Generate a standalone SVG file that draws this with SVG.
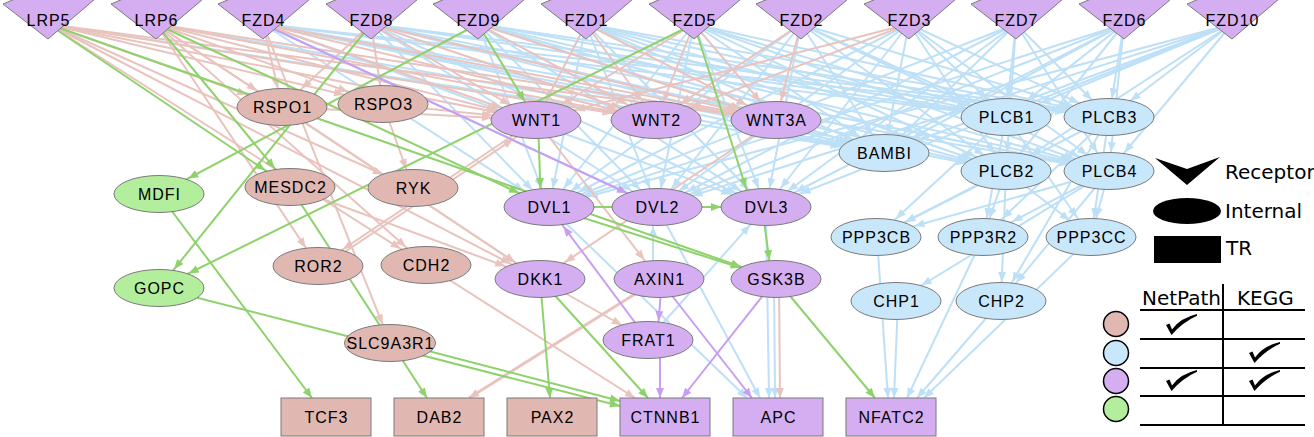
<svg xmlns="http://www.w3.org/2000/svg" xmlns:xlink="http://www.w3.org/1999/xlink" width="1314" height="437" viewBox="0 0 1314 437">
<style>
.e line{stroke-width:2;fill:none}
.ep line{stroke:#e9c3be}
.eb line{stroke:#bde0f7}
.eg line{stroke:#8ed26b}
.ev line{stroke:#c69ef2}
.ap{fill:#e9c3be}.ab{fill:#bde0f7}.ag{fill:#8ed26b}.av{fill:#c69ef2}
.n{stroke:#7a7a7a;stroke-width:1}
.fp{fill:#e0b7b1}.fb{fill:#c8e7fb}.fv{fill:#d4aef0}.fg{fill:#b2ee9b}
.t{font-family:"Liberation Sans",Arial,sans-serif;font-size:16px;letter-spacing:1px;text-anchor:middle;fill:#000}
.lg{font-family:"DejaVu Sans",Verdana,sans-serif;font-size:20px;fill:#000}
.tl{stroke:#000;stroke-width:2}
.lc{stroke:#000;stroke-width:1.5}
</style>
<defs>
<polygon id="rc" points="-45,4 -33,-1 47,-1 0,39"/>
<path id="ck" d="M0,11 L3.5,9.5 L6,15.5 Q14,4 31,0 L31,1.8 Q17,8 5.5,21 Z"/>
<marker id="p0" orient="auto" markerUnits="userSpaceOnUse" markerWidth="1" markerHeight="1" overflow="visible"><path class="ap" d="M-10,-4L0,0L-10,4z"/></marker>
<marker id="p19" orient="auto" markerUnits="userSpaceOnUse" markerWidth="1" markerHeight="1" overflow="visible"><path class="ap" d="M-29,-4L-19,0L-29,4z"/></marker>
<marker id="p20" orient="auto" markerUnits="userSpaceOnUse" markerWidth="1" markerHeight="1" overflow="visible"><path class="ap" d="M-30,-4L-20,0L-30,4z"/></marker>
<marker id="p22" orient="auto" markerUnits="userSpaceOnUse" markerWidth="1" markerHeight="1" overflow="visible"><path class="ap" d="M-32,-4L-22,0L-32,4z"/></marker>
<marker id="p24" orient="auto" markerUnits="userSpaceOnUse" markerWidth="1" markerHeight="1" overflow="visible"><path class="ap" d="M-34,-4L-24,0L-34,4z"/></marker>
<marker id="p27" orient="auto" markerUnits="userSpaceOnUse" markerWidth="1" markerHeight="1" overflow="visible"><path class="ap" d="M-37,-4L-27,0L-37,4z"/></marker>
<marker id="p30" orient="auto" markerUnits="userSpaceOnUse" markerWidth="1" markerHeight="1" overflow="visible"><path class="ap" d="M-40,-4L-30,0L-40,4z"/></marker>
<marker id="p33" orient="auto" markerUnits="userSpaceOnUse" markerWidth="1" markerHeight="1" overflow="visible"><path class="ap" d="M-43,-4L-33,0L-43,4z"/></marker>
<marker id="p37" orient="auto" markerUnits="userSpaceOnUse" markerWidth="1" markerHeight="1" overflow="visible"><path class="ap" d="M-47,-4L-37,0L-47,4z"/></marker>
<marker id="p40" orient="auto" markerUnits="userSpaceOnUse" markerWidth="1" markerHeight="1" overflow="visible"><path class="ap" d="M-50,-4L-40,0L-50,4z"/></marker>
<marker id="p44" orient="auto" markerUnits="userSpaceOnUse" markerWidth="1" markerHeight="1" overflow="visible"><path class="ap" d="M-54,-4L-44,0L-54,4z"/></marker>
<marker id="b0" orient="auto" markerUnits="userSpaceOnUse" markerWidth="1" markerHeight="1" overflow="visible"><path class="ab" d="M-10,-4L0,0L-10,4z"/></marker>
<marker id="b19" orient="auto" markerUnits="userSpaceOnUse" markerWidth="1" markerHeight="1" overflow="visible"><path class="ab" d="M-29,-4L-19,0L-29,4z"/></marker>
<marker id="b20" orient="auto" markerUnits="userSpaceOnUse" markerWidth="1" markerHeight="1" overflow="visible"><path class="ab" d="M-30,-4L-20,0L-30,4z"/></marker>
<marker id="b22" orient="auto" markerUnits="userSpaceOnUse" markerWidth="1" markerHeight="1" overflow="visible"><path class="ab" d="M-32,-4L-22,0L-32,4z"/></marker>
<marker id="b24" orient="auto" markerUnits="userSpaceOnUse" markerWidth="1" markerHeight="1" overflow="visible"><path class="ab" d="M-34,-4L-24,0L-34,4z"/></marker>
<marker id="b27" orient="auto" markerUnits="userSpaceOnUse" markerWidth="1" markerHeight="1" overflow="visible"><path class="ab" d="M-37,-4L-27,0L-37,4z"/></marker>
<marker id="b30" orient="auto" markerUnits="userSpaceOnUse" markerWidth="1" markerHeight="1" overflow="visible"><path class="ab" d="M-40,-4L-30,0L-40,4z"/></marker>
<marker id="b33" orient="auto" markerUnits="userSpaceOnUse" markerWidth="1" markerHeight="1" overflow="visible"><path class="ab" d="M-43,-4L-33,0L-43,4z"/></marker>
<marker id="b37" orient="auto" markerUnits="userSpaceOnUse" markerWidth="1" markerHeight="1" overflow="visible"><path class="ab" d="M-47,-4L-37,0L-47,4z"/></marker>
<marker id="b40" orient="auto" markerUnits="userSpaceOnUse" markerWidth="1" markerHeight="1" overflow="visible"><path class="ab" d="M-50,-4L-40,0L-50,4z"/></marker>
<marker id="b44" orient="auto" markerUnits="userSpaceOnUse" markerWidth="1" markerHeight="1" overflow="visible"><path class="ab" d="M-54,-4L-44,0L-54,4z"/></marker>
<marker id="g0" orient="auto" markerUnits="userSpaceOnUse" markerWidth="1" markerHeight="1" overflow="visible"><path class="ag" d="M-10,-4L0,0L-10,4z"/></marker>
<marker id="g19" orient="auto" markerUnits="userSpaceOnUse" markerWidth="1" markerHeight="1" overflow="visible"><path class="ag" d="M-29,-4L-19,0L-29,4z"/></marker>
<marker id="g20" orient="auto" markerUnits="userSpaceOnUse" markerWidth="1" markerHeight="1" overflow="visible"><path class="ag" d="M-30,-4L-20,0L-30,4z"/></marker>
<marker id="g22" orient="auto" markerUnits="userSpaceOnUse" markerWidth="1" markerHeight="1" overflow="visible"><path class="ag" d="M-32,-4L-22,0L-32,4z"/></marker>
<marker id="g24" orient="auto" markerUnits="userSpaceOnUse" markerWidth="1" markerHeight="1" overflow="visible"><path class="ag" d="M-34,-4L-24,0L-34,4z"/></marker>
<marker id="g30" orient="auto" markerUnits="userSpaceOnUse" markerWidth="1" markerHeight="1" overflow="visible"><path class="ag" d="M-40,-4L-30,0L-40,4z"/></marker>
<marker id="g33" orient="auto" markerUnits="userSpaceOnUse" markerWidth="1" markerHeight="1" overflow="visible"><path class="ag" d="M-43,-4L-33,0L-43,4z"/></marker>
<marker id="g37" orient="auto" markerUnits="userSpaceOnUse" markerWidth="1" markerHeight="1" overflow="visible"><path class="ag" d="M-47,-4L-37,0L-47,4z"/></marker>
<marker id="v0" orient="auto" markerUnits="userSpaceOnUse" markerWidth="1" markerHeight="1" overflow="visible"><path class="av" d="M-10,-4L0,0L-10,4z"/></marker>
<marker id="v19" orient="auto" markerUnits="userSpaceOnUse" markerWidth="1" markerHeight="1" overflow="visible"><path class="av" d="M-29,-4L-19,0L-29,4z"/></marker>
<marker id="v24" orient="auto" markerUnits="userSpaceOnUse" markerWidth="1" markerHeight="1" overflow="visible"><path class="av" d="M-34,-4L-24,0L-34,4z"/></marker>
<marker id="v33" orient="auto" markerUnits="userSpaceOnUse" markerWidth="1" markerHeight="1" overflow="visible"><path class="av" d="M-43,-4L-33,0L-43,4z"/></marker>
</defs>
<rect width="1314" height="437" fill="#fff"/>
<g id="connectors" class="e">
<g class="eb">
<line x1="263" y1="24" x2="549" y2="207" marker-end="url(#b30)"/>
<line x1="263" y1="24" x2="657" y2="207" marker-end="url(#b33)"/>
<line x1="263" y1="24" x2="766" y2="207" marker-end="url(#b37)"/>
<line x1="263" y1="24" x2="1006" y2="117" marker-end="url(#b44)"/>
<line x1="263" y1="24" x2="1006" y2="171" marker-end="url(#b40)"/>
<line x1="263" y1="24" x2="1109" y2="117" marker-end="url(#b44)"/>
<line x1="263" y1="24" x2="1109" y2="171" marker-end="url(#b40)"/>
<line x1="263" y1="24" x2="884" y2="153" marker-end="url(#b40)"/>
<line x1="371" y1="24" x2="549" y2="207" marker-end="url(#b24)"/>
<line x1="371" y1="24" x2="657" y2="207" marker-end="url(#b30)"/>
<line x1="371" y1="24" x2="766" y2="207" marker-end="url(#b33)"/>
<line x1="371" y1="24" x2="1006" y2="117" marker-end="url(#b44)"/>
<line x1="371" y1="24" x2="1006" y2="171" marker-end="url(#b40)"/>
<line x1="371" y1="24" x2="1109" y2="117" marker-end="url(#b44)"/>
<line x1="371" y1="24" x2="1109" y2="171" marker-end="url(#b40)"/>
<line x1="371" y1="24" x2="884" y2="153" marker-end="url(#b40)"/>
<line x1="478" y1="24" x2="549" y2="207" marker-end="url(#b20)"/>
<line x1="478" y1="24" x2="657" y2="207" marker-end="url(#b24)"/>
<line x1="478" y1="24" x2="766" y2="207" marker-end="url(#b30)"/>
<line x1="478" y1="24" x2="1006" y2="117" marker-end="url(#b40)"/>
<line x1="478" y1="24" x2="1006" y2="171" marker-end="url(#b40)"/>
<line x1="478" y1="24" x2="1109" y2="117" marker-end="url(#b44)"/>
<line x1="478" y1="24" x2="1109" y2="171" marker-end="url(#b40)"/>
<line x1="478" y1="24" x2="884" y2="153" marker-end="url(#b37)"/>
<line x1="586" y1="24" x2="549" y2="207" marker-end="url(#b19)"/>
<line x1="586" y1="24" x2="657" y2="207" marker-end="url(#b20)"/>
<line x1="586" y1="24" x2="766" y2="207" marker-end="url(#b24)"/>
<line x1="586" y1="24" x2="1006" y2="117" marker-end="url(#b40)"/>
<line x1="586" y1="24" x2="1006" y2="171" marker-end="url(#b37)"/>
<line x1="586" y1="24" x2="1109" y2="117" marker-end="url(#b40)"/>
<line x1="586" y1="24" x2="1109" y2="171" marker-end="url(#b40)"/>
<line x1="586" y1="24" x2="884" y2="153" marker-end="url(#b33)"/>
<line x1="694" y1="24" x2="549" y2="207" marker-end="url(#b24)"/>
<line x1="694" y1="24" x2="657" y2="207" marker-end="url(#b19)"/>
<line x1="694" y1="24" x2="766" y2="207" marker-end="url(#b20)"/>
<line x1="694" y1="24" x2="1006" y2="117" marker-end="url(#b40)"/>
<line x1="694" y1="24" x2="1006" y2="171" marker-end="url(#b33)"/>
<line x1="694" y1="24" x2="1109" y2="117" marker-end="url(#b40)"/>
<line x1="694" y1="24" x2="1109" y2="171" marker-end="url(#b37)"/>
<line x1="694" y1="24" x2="884" y2="153" marker-end="url(#b30)"/>
<line x1="801" y1="24" x2="549" y2="207" marker-end="url(#b27)"/>
<line x1="801" y1="24" x2="657" y2="207" marker-end="url(#b24)"/>
<line x1="801" y1="24" x2="766" y2="207" marker-end="url(#b19)"/>
<line x1="801" y1="24" x2="1006" y2="117" marker-end="url(#b33)"/>
<line x1="801" y1="24" x2="1006" y2="171" marker-end="url(#b27)"/>
<line x1="801" y1="24" x2="1109" y2="117" marker-end="url(#b37)"/>
<line x1="801" y1="24" x2="1109" y2="171" marker-end="url(#b33)"/>
<line x1="801" y1="24" x2="884" y2="153" marker-end="url(#b22)"/>
<line x1="909" y1="24" x2="549" y2="207" marker-end="url(#b33)"/>
<line x1="909" y1="24" x2="657" y2="207" marker-end="url(#b27)"/>
<line x1="909" y1="24" x2="766" y2="207" marker-end="url(#b24)"/>
<line x1="909" y1="24" x2="1006" y2="117" marker-end="url(#b27)"/>
<line x1="909" y1="24" x2="1006" y2="171" marker-end="url(#b22)"/>
<line x1="909" y1="24" x2="1109" y2="117" marker-end="url(#b33)"/>
<line x1="909" y1="24" x2="1109" y2="171" marker-end="url(#b27)"/>
<line x1="909" y1="24" x2="884" y2="153" marker-end="url(#b19)"/>
<line x1="1016" y1="24" x2="549" y2="207" marker-end="url(#b37)"/>
<line x1="1016" y1="24" x2="657" y2="207" marker-end="url(#b33)"/>
<line x1="1016" y1="24" x2="766" y2="207" marker-end="url(#b27)"/>
<line x1="1016" y1="24" x2="1006" y2="117" marker-end="url(#b19)"/>
<line x1="1016" y1="24" x2="1006" y2="171" marker-end="url(#b19)"/>
<line x1="1016" y1="24" x2="1109" y2="117" marker-end="url(#b24)"/>
<line x1="1016" y1="24" x2="1109" y2="171" marker-end="url(#b22)"/>
<line x1="1016" y1="24" x2="884" y2="153" marker-end="url(#b27)"/>
<line x1="1124" y1="24" x2="549" y2="207" marker-end="url(#b37)"/>
<line x1="1124" y1="24" x2="657" y2="207" marker-end="url(#b37)"/>
<line x1="1124" y1="24" x2="766" y2="207" marker-end="url(#b33)"/>
<line x1="1124" y1="24" x2="1006" y2="117" marker-end="url(#b27)"/>
<line x1="1124" y1="24" x2="1006" y2="171" marker-end="url(#b24)"/>
<line x1="1124" y1="24" x2="1109" y2="117" marker-end="url(#b19)"/>
<line x1="1124" y1="24" x2="1109" y2="171" marker-end="url(#b19)"/>
<line x1="1124" y1="24" x2="884" y2="153" marker-end="url(#b33)"/>
<line x1="1232" y1="24" x2="549" y2="207" marker-end="url(#b40)"/>
<line x1="1232" y1="24" x2="657" y2="207" marker-end="url(#b37)"/>
<line x1="1232" y1="24" x2="766" y2="207" marker-end="url(#b37)"/>
<line x1="1232" y1="24" x2="1006" y2="117" marker-end="url(#b37)"/>
<line x1="1232" y1="24" x2="1006" y2="171" marker-end="url(#b30)"/>
<line x1="1232" y1="24" x2="1109" y2="117" marker-end="url(#b27)"/>
<line x1="1232" y1="24" x2="1109" y2="171" marker-end="url(#b24)"/>
<line x1="1232" y1="24" x2="884" y2="153" marker-end="url(#b37)"/>
<line x1="48" y1="24" x2="884" y2="153" marker-end="url(#b44)"/>
<line x1="156" y1="24" x2="884" y2="153" marker-end="url(#b40)"/>
<line x1="1006" y1="117" x2="876" y2="237" marker-end="url(#b27)"/>
<line x1="1006" y1="117" x2="983" y2="237" marker-end="url(#b19)"/>
<line x1="1006" y1="117" x2="1091" y2="237" marker-end="url(#b24)"/>
<line x1="1006" y1="171" x2="876" y2="237" marker-end="url(#b33)"/>
<line x1="1006" y1="171" x2="983" y2="237" marker-end="url(#b20)"/>
<line x1="1006" y1="171" x2="1091" y2="237" marker-end="url(#b27)"/>
<line x1="1109" y1="117" x2="876" y2="237" marker-end="url(#b33)"/>
<line x1="1109" y1="117" x2="983" y2="237" marker-end="url(#b27)"/>
<line x1="1109" y1="117" x2="1091" y2="237" marker-end="url(#b19)"/>
<line x1="1109" y1="171" x2="876" y2="237" marker-end="url(#b40)"/>
<line x1="1109" y1="171" x2="983" y2="237" marker-end="url(#b33)"/>
<line x1="1109" y1="171" x2="1091" y2="237" marker-end="url(#b20)"/>
<line x1="1006" y1="171" x2="1001" y2="301" marker-end="url(#b19)"/>
<line x1="1109" y1="171" x2="896" y2="301" marker-end="url(#b30)"/>
<line x1="1109" y1="171" x2="1001" y2="301" marker-end="url(#b24)"/>
<line x1="1109" y1="117" x2="1001" y2="301" marker-end="url(#b22)"/>
<line x1="877" y1="237" x2="888" y2="398" marker-end="url(#b0)"/>
<line x1="898" y1="301" x2="894" y2="398" marker-end="url(#b0)"/>
<line x1="983" y1="237" x2="907" y2="398" marker-end="url(#b0)"/>
<line x1="1001" y1="301" x2="917" y2="398" marker-end="url(#b0)"/>
<line x1="1091" y1="237" x2="924" y2="398" marker-end="url(#b0)"/>
<line x1="653" y1="279" x2="653" y2="207" marker-end="url(#b19)"/>
<line x1="648" y1="340" x2="766" y2="207" marker-end="url(#b24)"/>
<line x1="549" y1="207" x2="747" y2="398" marker-end="url(#b0)"/>
<line x1="657" y1="207" x2="760" y2="398" marker-end="url(#b0)"/>
<line x1="766" y1="207" x2="769" y2="398" marker-end="url(#b0)"/>
<line x1="774" y1="279" x2="775" y2="398" marker-end="url(#b0)"/>
</g>
<g class="ep">
<line x1="48" y1="24" x2="282" y2="107" marker-end="url(#p37)"/>
<line x1="48" y1="24" x2="383" y2="104" marker-end="url(#p40)"/>
<line x1="48" y1="24" x2="536" y2="120" marker-end="url(#p40)"/>
<line x1="48" y1="24" x2="656" y2="120" marker-end="url(#p44)"/>
<line x1="48" y1="24" x2="776" y2="120" marker-end="url(#p44)"/>
<line x1="48" y1="24" x2="540" y2="279" marker-end="url(#p33)"/>
<line x1="48" y1="24" x2="426" y2="265" marker-end="url(#p30)"/>
<line x1="48" y1="24" x2="413" y2="188" marker-end="url(#p33)"/>
<line x1="156" y1="24" x2="282" y2="107" marker-end="url(#p30)"/>
<line x1="156" y1="24" x2="383" y2="104" marker-end="url(#p37)"/>
<line x1="156" y1="24" x2="536" y2="120" marker-end="url(#p40)"/>
<line x1="156" y1="24" x2="656" y2="120" marker-end="url(#p40)"/>
<line x1="156" y1="24" x2="776" y2="120" marker-end="url(#p44)"/>
<line x1="156" y1="24" x2="540" y2="279" marker-end="url(#p30)"/>
<line x1="156" y1="24" x2="318" y2="266" marker-end="url(#p22)"/>
<line x1="156" y1="24" x2="426" y2="265" marker-end="url(#p27)"/>
<line x1="263" y1="24" x2="282" y2="107" marker-end="url(#p19)"/>
<line x1="263" y1="24" x2="536" y2="120" marker-end="url(#p37)"/>
<line x1="263" y1="24" x2="656" y2="120" marker-end="url(#p40)"/>
<line x1="263" y1="24" x2="776" y2="120" marker-end="url(#p40)"/>
<line x1="263" y1="24" x2="390" y2="343" marker-end="url(#p20)"/>
<line x1="371" y1="24" x2="282" y2="107" marker-end="url(#p27)"/>
<line x1="371" y1="24" x2="383" y2="104" marker-end="url(#p19)"/>
<line x1="371" y1="24" x2="536" y2="120" marker-end="url(#p30)"/>
<line x1="371" y1="24" x2="656" y2="120" marker-end="url(#p37)"/>
<line x1="371" y1="24" x2="776" y2="120" marker-end="url(#p40)"/>
<line x1="478" y1="24" x2="656" y2="120" marker-end="url(#p33)"/>
<line x1="478" y1="24" x2="776" y2="120" marker-end="url(#p37)"/>
<line x1="586" y1="24" x2="536" y2="120" marker-end="url(#p22)"/>
<line x1="586" y1="24" x2="656" y2="120" marker-end="url(#p24)"/>
<line x1="586" y1="24" x2="776" y2="120" marker-end="url(#p33)"/>
<line x1="694" y1="24" x2="656" y2="120" marker-end="url(#p20)"/>
<line x1="694" y1="24" x2="776" y2="120" marker-end="url(#p24)"/>
<line x1="694" y1="24" x2="536" y2="120" marker-end="url(#p30)"/>
<line x1="801" y1="24" x2="776" y2="120" marker-end="url(#p20)"/>
<line x1="801" y1="24" x2="656" y2="120" marker-end="url(#p30)"/>
<line x1="909" y1="24" x2="536" y2="120" marker-end="url(#p40)"/>
<line x1="909" y1="24" x2="656" y2="120" marker-end="url(#p37)"/>
<line x1="282" y1="107" x2="536" y2="120" marker-end="url(#p44)"/>
<line x1="383" y1="104" x2="536" y2="120" marker-end="url(#p44)"/>
<line x1="383" y1="104" x2="413" y2="188" marker-end="url(#p20)"/>
<line x1="536" y1="120" x2="318" y2="266" marker-end="url(#p30)"/>
<line x1="320" y1="268.5" x2="538" y2="122.5" marker-end="url(#p30)"/>
<line x1="536" y1="120" x2="659" y2="279" marker-end="url(#p24)"/>
<line x1="776" y1="120" x2="540" y2="279" marker-end="url(#p30)"/>
<line x1="290" y1="187" x2="540" y2="279" marker-end="url(#p37)"/>
<line x1="282" y1="107" x2="540" y2="279" marker-end="url(#p30)"/>
<line x1="540" y1="279" x2="648" y2="340" marker-end="url(#p30)"/>
<line x1="426" y1="265" x2="635" y2="398" marker-end="url(#p0)"/>
<line x1="659" y1="279" x2="469" y2="398" marker-end="url(#p0)" style="stroke-width:3"/>
<line x1="779" y1="279" x2="780" y2="398" marker-end="url(#p0)"/>
</g>
<g class="eg">
<line x1="48" y1="24" x2="290" y2="187" marker-end="url(#g30)"/>
<line x1="156" y1="24" x2="290" y2="187" marker-end="url(#g24)"/>
<line x1="48" y1="24" x2="776" y2="279" marker-end="url(#g37)"/>
<line x1="156" y1="24" x2="549" y2="207" marker-end="url(#g33)"/>
<line x1="371" y1="24" x2="159" y2="288" marker-end="url(#g24)"/>
<line x1="478" y1="24" x2="159" y2="194" marker-end="url(#g33)"/>
<line x1="694" y1="24" x2="159" y2="288" marker-end="url(#g33)"/>
<line x1="159" y1="194" x2="312" y2="398" marker-end="url(#g0)"/>
<line x1="159" y1="288" x2="620" y2="406" marker-end="url(#g0)"/>
<line x1="390" y1="341" x2="620" y2="401" marker-end="url(#g0)"/>
<line x1="290" y1="187" x2="427" y2="398" marker-end="url(#g0)"/>
<line x1="538" y1="120" x2="541" y2="207" marker-end="url(#g19)"/>
<line x1="540" y1="279" x2="550" y2="398" marker-end="url(#g0)"/>
<line x1="540" y1="279" x2="648" y2="398" marker-end="url(#g0)"/>
<line x1="549" y1="207" x2="721" y2="207" marker-end="url(#g0)"/>
<line x1="549" y1="207" x2="776" y2="279" marker-end="url(#g37)"/>
<line x1="762" y1="207" x2="772" y2="279" marker-end="url(#g19)"/>
<line x1="776" y1="279" x2="875" y2="398" marker-end="url(#g0)"/>
<line x1="478" y1="24" x2="536" y2="120" marker-end="url(#g22)"/>
<line x1="694" y1="24" x2="752" y2="207" marker-end="url(#g20)"/>
</g>
<g class="ev">
<line x1="263" y1="24" x2="657" y2="207" marker-end="url(#v33)"/>
<line x1="648" y1="340" x2="549" y2="207" marker-end="url(#v24)"/>
<line x1="662" y1="279" x2="657" y2="340" marker-end="url(#v19)"/>
<line x1="659" y1="279" x2="752" y2="398" marker-end="url(#v0)"/>
<line x1="660" y1="340" x2="660" y2="398" marker-end="url(#v0)"/>
<line x1="776" y1="279" x2="682" y2="398" marker-end="url(#v0)"/>
</g>
</g>
<g id="nodes">
<g id="LRP5"><use href="#rc" x="48" class="n fv"/><text class="t" x="48.5" y="26">LRP5</text></g>
<g id="LRP6"><use href="#rc" x="156" class="n fv"/><text class="t" x="156.5" y="26">LRP6</text></g>
<g id="FZD4"><use href="#rc" x="263" class="n fv"/><text class="t" x="263.5" y="26">FZD4</text></g>
<g id="FZD8"><use href="#rc" x="371" class="n fv"/><text class="t" x="371.5" y="26">FZD8</text></g>
<g id="FZD9"><use href="#rc" x="478" class="n fv"/><text class="t" x="478.5" y="26">FZD9</text></g>
<g id="FZD1"><use href="#rc" x="586" class="n fv"/><text class="t" x="586.5" y="26">FZD1</text></g>
<g id="FZD5"><use href="#rc" x="694" class="n fv"/><text class="t" x="694.5" y="26">FZD5</text></g>
<g id="FZD2"><use href="#rc" x="801" class="n fv"/><text class="t" x="801.5" y="26">FZD2</text></g>
<g id="FZD3"><use href="#rc" x="909" class="n fv"/><text class="t" x="909.5" y="26">FZD3</text></g>
<g id="FZD7"><use href="#rc" x="1016" class="n fv"/><text class="t" x="1016.5" y="26">FZD7</text></g>
<g id="FZD6"><use href="#rc" x="1124" class="n fv"/><text class="t" x="1124.5" y="26">FZD6</text></g>
<g id="FZD10"><use href="#rc" x="1232" class="n fv"/><text class="t" x="1232.5" y="26">FZD10</text></g>
<g id="RSPO1"><ellipse cx="282" cy="107" rx="45" ry="18.5" class="n fp"/><text class="t" x="282.5" y="113">RSPO1</text></g>
<g id="RSPO3"><ellipse cx="383" cy="104" rx="45" ry="18.5" class="n fp"/><text class="t" x="383.5" y="110">RSPO3</text></g>
<g id="WNT1"><ellipse cx="536" cy="120" rx="45" ry="18.5" class="n fv"/><text class="t" x="536.5" y="126">WNT1</text></g>
<g id="WNT2"><ellipse cx="656" cy="120" rx="45" ry="18.5" class="n fv"/><text class="t" x="656.5" y="126">WNT2</text></g>
<g id="WNT3A"><ellipse cx="776" cy="120" rx="45" ry="18.5" class="n fv"/><text class="t" x="776.5" y="126">WNT3A</text></g>
<g id="PLCB1"><ellipse cx="1006" cy="117" rx="45" ry="18.5" class="n fb"/><text class="t" x="1006.5" y="123">PLCB1</text></g>
<g id="PLCB3"><ellipse cx="1109" cy="117" rx="45" ry="18.5" class="n fb"/><text class="t" x="1109.5" y="123">PLCB3</text></g>
<g id="BAMBI"><ellipse cx="884" cy="153" rx="45" ry="18.5" class="n fb"/><text class="t" x="884.5" y="159">BAMBI</text></g>
<g id="PLCB2"><ellipse cx="1006" cy="171" rx="45" ry="18.5" class="n fb"/><text class="t" x="1006.5" y="177">PLCB2</text></g>
<g id="PLCB4"><ellipse cx="1109" cy="171" rx="45" ry="18.5" class="n fb"/><text class="t" x="1109.5" y="177">PLCB4</text></g>
<g id="MDFI"><ellipse cx="159" cy="194" rx="45" ry="18.5" class="n fg"/><text class="t" x="159.5" y="200">MDFI</text></g>
<g id="MESDC2"><ellipse cx="290" cy="187" rx="45" ry="18.5" class="n fp"/><text class="t" x="290.5" y="193">MESDC2</text></g>
<g id="RYK"><ellipse cx="413" cy="188" rx="45" ry="18.5" class="n fp"/><text class="t" x="413.5" y="194">RYK</text></g>
<g id="DVL1"><ellipse cx="549" cy="207" rx="45" ry="18.5" class="n fv"/><text class="t" x="549.5" y="213">DVL1</text></g>
<g id="DVL2"><ellipse cx="657" cy="207" rx="45" ry="18.5" class="n fv"/><text class="t" x="657.5" y="213">DVL2</text></g>
<g id="DVL3"><ellipse cx="766" cy="207" rx="45" ry="18.5" class="n fv"/><text class="t" x="766.5" y="213">DVL3</text></g>
<g id="PPP3CB"><ellipse cx="876" cy="237" rx="45" ry="18.5" class="n fb"/><text class="t" x="876.5" y="243">PPP3CB</text></g>
<g id="PPP3R2"><ellipse cx="983" cy="237" rx="45" ry="18.5" class="n fb"/><text class="t" x="983.5" y="243">PPP3R2</text></g>
<g id="PPP3CC"><ellipse cx="1091" cy="237" rx="45" ry="18.5" class="n fb"/><text class="t" x="1091.5" y="243">PPP3CC</text></g>
<g id="ROR2"><ellipse cx="318" cy="266" rx="45" ry="18.5" class="n fp"/><text class="t" x="318.5" y="272">ROR2</text></g>
<g id="CDH2"><ellipse cx="426" cy="265" rx="45" ry="18.5" class="n fp"/><text class="t" x="426.5" y="271">CDH2</text></g>
<g id="GOPC"><ellipse cx="159" cy="288" rx="45" ry="18.5" class="n fg"/><text class="t" x="159.5" y="294">GOPC</text></g>
<g id="DKK1"><ellipse cx="540" cy="279" rx="45" ry="18.5" class="n fv"/><text class="t" x="540.5" y="285">DKK1</text></g>
<g id="AXIN1"><ellipse cx="659" cy="279" rx="45" ry="18.5" class="n fv"/><text class="t" x="659.5" y="285">AXIN1</text></g>
<g id="GSK3B"><ellipse cx="776" cy="279" rx="45" ry="18.5" class="n fv"/><text class="t" x="776.5" y="285">GSK3B</text></g>
<g id="CHP1"><ellipse cx="896" cy="301" rx="45" ry="18.5" class="n fb"/><text class="t" x="896.5" y="307">CHP1</text></g>
<g id="CHP2"><ellipse cx="1001" cy="301" rx="45" ry="18.5" class="n fb"/><text class="t" x="1001.5" y="307">CHP2</text></g>
<g id="FRAT1"><ellipse cx="648" cy="340" rx="45" ry="18.5" class="n fv"/><text class="t" x="648.5" y="346">FRAT1</text></g>
<g id="SLC9A3R1"><ellipse cx="390" cy="343" rx="45.5" ry="18.5" class="n fp"/><text class="t" x="390.5" y="349">SLC9A3R1</text></g>
<g id="TCF3"><rect x="281" y="398" width="90" height="38" class="n fp"/><text class="t" x="326.5" y="423">TCF3</text></g>
<g id="DAB2"><rect x="394" y="398" width="90" height="38" class="n fp"/><text class="t" x="439.5" y="423">DAB2</text></g>
<g id="PAX2"><rect x="507" y="398" width="90" height="38" class="n fp"/><text class="t" x="552.5" y="423">PAX2</text></g>
<g id="CTNNB1"><rect x="620" y="398" width="90" height="38" class="n fv"/><text class="t" x="665.5" y="423">CTNNB1</text></g>
<g id="APC"><rect x="733" y="398" width="90" height="38" class="n fv"/><text class="t" x="778.5" y="423">APC</text></g>
<g id="NFATC2"><rect x="846" y="398" width="90" height="38" class="n fv"/><text class="t" x="891.5" y="423">NFATC2</text></g>
</g>
<g id="legend">
<polygon points="1155,158 1187,169 1220,157 1187,185" fill="#000"/>
<text class="lg" x="1225" y="179">Receptor</text>
<ellipse cx="1187" cy="211" rx="34" ry="13" fill="#000"/>
<text class="lg" x="1225" y="218">Internal</text>
<rect x="1154" y="236" width="67" height="27" fill="#000"/>
<text class="lg" x="1226" y="255">TR</text>
<text class="lg" x="1142" y="305">NetPath</text>
<text class="lg" x="1237" y="305">KEGG</text>
<line class="tl" x1="1223" y1="284" x2="1223" y2="425"/>
<line class="tl" x1="1140" y1="310" x2="1305" y2="310"/>
<line class="tl" x1="1140" y1="339" x2="1305" y2="339"/>
<line class="tl" x1="1140" y1="368" x2="1305" y2="368"/>
<line class="tl" x1="1140" y1="396" x2="1305" y2="396"/>
<line class="tl" x1="1140" y1="425" x2="1305" y2="425"/>
<circle cx="1116" cy="324" r="12.5" class="lc fp"/>
<circle cx="1116" cy="353" r="12.5" class="lc fb"/>
<circle cx="1116" cy="381" r="12.5" class="lc fv"/>
<circle cx="1116" cy="409" r="12.5" class="lc fg"/>
<use href="#ck" x="1166" y="314"/>
<use href="#ck" x="1249" y="342"/>
<use href="#ck" x="1166" y="370"/>
<use href="#ck" x="1249" y="370"/>
</g>
</svg>
